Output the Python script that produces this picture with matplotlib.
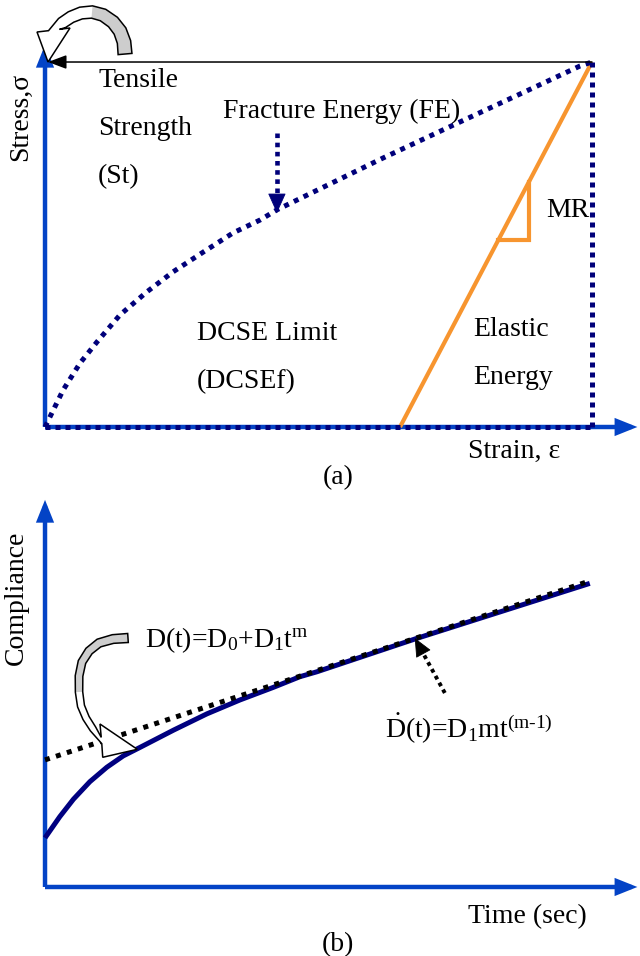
import matplotlib
matplotlib.use("Agg")
import numpy as np
import matplotlib.pyplot as plt
from matplotlib.patches import FancyArrowPatch, Polygon

plt.rcParams['font.family'] = ['Liberation Serif', 'DejaVu Serif']
plt.rcParams['mathtext.fontset'] = 'custom'
plt.rcParams['mathtext.rm'] = 'Liberation Serif'
plt.rcParams['mathtext.it'] = 'Liberation Serif:italic'
plt.rcParams['mathtext.bf'] = 'Liberation Serif:bold'
plt.rcParams['mathtext.default'] = 'rm'

# ---------------- (a) stress-strain (normalised) ----------------
fe_strain = [0.0, 0.033, 0.064, 0.095, 0.137, 0.186, 0.234, 0.289, 0.344,
             0.393, 0.424, 0.521, 0.618, 0.759, 0.868, 0.978, 1.0]
fe_stress = [0.0, 0.101, 0.175, 0.233, 0.307, 0.370, 0.425, 0.479, 0.532,
             0.567, 0.595, 0.666, 0.737, 0.836, 0.912, 0.989, 1.0]
peak_strain = 1.0
peak_stress = 1.0
unload_strain = 0.649          # strain where the elastic unloading line meets zero stress
slope_marks = [0.512, 0.671]   # stress levels of the modulus triangle

# ---------------- (b) creep compliance (normalised) ----------------
time = [0.0, 0.027, 0.052, 0.082, 0.113, 0.143, 0.174, 0.235, 0.296,
        0.356, 0.417, 0.466, 0.497, 0.680, 0.996]
compliance = [0.160, 0.229, 0.286, 0.343, 0.390, 0.427, 0.455, 0.511, 0.564,
              0.609, 0.650, 0.685, 0.701, 0.810, 0.989]
tangent_time = [0.0, 0.998]
tangent_compliance = [0.414, 0.998]

BLUE = '#0343c6'
NAVY = '#00007a'
ORANGE = '#f7952f'
GRAY = '#cdcdcd'
DOTS = (0, (1, 1))
FS = 20

fig = plt.figure(figsize=(6.4, 9.56), dpi=100)
axa = fig.add_axes([0, 0.48745, 1, 0.51255])
axa.set_xlim(-0.0823, 1.0878)
axa.set_ylim(-0.1726, 1.1699)
axa.axis('off')

axb = fig.add_axes([0, 0, 1, 0.48745])
axb.set_xlim(-0.0823, 1.0878)
axb.set_ylim(-0.2248, 1.2932)
axb.axis('off')


def axis_arrow(ax, start, end):
    ax.add_patch(FancyArrowPatch(start, end,
                                 arrowstyle='-|>,head_length=0.75,head_width=0.3',
                                 mutation_scale=14, lw=3.2, color=BLUE,
                                 shrinkA=0, shrinkB=0, joinstyle='miter',
                                 capstyle='butt', clip_on=False, zorder=1))


def dotted_arrow(ax, start, tip, color, frac, lw, head_scale):
    base = (tip[0] + (start[0] - tip[0]) * frac, tip[1] + (start[1] - tip[1]) * frac)
    ax.plot([start[0], base[0]], [start[1], base[1]], color=color, lw=lw,
            ls=DOTS, clip_on=False, zorder=4)
    ax.add_patch(FancyArrowPatch(base, tip,
                                 arrowstyle='-|>,head_length=1.0,head_width=0.45',
                                 mutation_scale=head_scale, lw=0.6, color=color,
                                 shrinkA=0, shrinkB=0, clip_on=False, zorder=4))


def block_arrow(ax, cx, cy, tip, corners, w0, w1, n_gray):
    """Curved block arrow: a tapering band along (cx, cy) ending in a triangular head."""
    to_disp = ax.transData
    c = to_disp.transform(np.column_stack([cx, cy]))
    tp = to_disp.transform([tip])[0]
    k = to_disp.transform(np.array(corners))
    half = np.linspace(w0, w1, len(c)) * fig.dpi / 72.0 / 2.0
    d = np.gradient(c, axis=0)
    d /= np.linalg.norm(d, axis=1)[:, None]
    nrm = np.column_stack([-d[:, 1], d[:, 0]])
    base_dir = k[0] - k[1]
    base_dir /= np.linalg.norm(base_dir)
    if np.dot(base_dir, nrm[-1]) < 0:
        base_dir = -base_dir
        k = k[::-1]
    nrm[-1] = base_dir
    side_a = c + nrm * half[:, None]
    side_b = c - nrm * half[:, None]
    outline = np.vstack([side_a, k[0], tp, k[1], side_b[::-1]])
    tail = np.vstack([side_a[:n_gray], side_b[:n_gray][::-1]])
    back = to_disp.inverted()
    ax.add_patch(Polygon(back.transform(outline), closed=True, facecolor='white',
                         edgecolor='none', zorder=5, clip_on=False))
    ax.add_patch(Polygon(back.transform(tail), closed=True, facecolor=GRAY,
                         edgecolor='none', zorder=5.1, clip_on=False))
    ax.add_patch(Polygon(back.transform(outline), closed=True, facecolor='none',
                         edgecolor='black', lw=1.1, joinstyle='miter',
                         zorder=5.2, clip_on=False))


# ---- panel (a) ----
axis_arrow(axa, (0, 0), (0, 1.047))
axis_arrow(axa, (0, 0), (1.083, 0))

# elastic unloading line and modulus triangle
axa.plot([unload_strain, peak_strain], [0, peak_stress], color=ORANGE, lw=3.0,
         solid_capstyle='butt', zorder=2)
e_lo = unload_strain + slope_marks[0] * (peak_strain - unload_strain) / peak_stress
e_hi = unload_strain + slope_marks[1] * (peak_strain - unload_strain) / peak_stress
axa.plot([e_lo, e_hi, e_hi], [slope_marks[0], slope_marks[0], slope_marks[1]],
         color=ORANGE, lw=3.0, solid_joinstyle='miter', zorder=2)

# fracture-energy envelope
axa.plot([0, peak_strain], [0, 0], color=NAVY, lw=3.6, ls=DOTS, zorder=3)
axa.plot([peak_strain, peak_strain], [0, peak_stress], color=NAVY, lw=3.6, ls=DOTS, zorder=3)
axa.plot(fe_strain, fe_stress, color=NAVY, lw=3.6, ls=(0, (1, 1.15)), zorder=3)

# tensile strength line
axa.add_patch(FancyArrowPatch((peak_strain, peak_stress), (0.0055, peak_stress),
                              arrowstyle='-|>,head_length=0.8,head_width=0.3',
                              mutation_scale=14, lw=1.1, color='black',
                              shrinkA=0, shrinkB=0, zorder=4))

block_arrow(axa,
            [0.1463, 0.1444, 0.1371, 0.1243, 0.1060, 0.0859, 0.0658, 0.0475, 0.0311, 0.0165],
            [1.0219, 1.0548, 1.0849, 1.1096, 1.1288, 1.1370, 1.1342, 1.1233, 1.1068, 1.0877],
            (0.0055, 1.0), [(-0.0146, 1.0822), (0.0457, 1.0932)], 10, 8, 6)

dotted_arrow(axa, (0.424, 0.805), (0.424, 0.586), NAVY, 0.22, 3.3, 13)

axa.text(-0.044, 0.849, 'Stress,σ', rotation=90, ha='center', va='center', fontsize=FS)
axa.text(0.097, 0.932, 'Tensile', ha='left', va='baseline', fontsize=FS)
axa.text(0.097, 0.800, 'Strength', ha='left', va='baseline', fontsize=FS)
axa.text(0.097, 0.668, '(St)', ha='left', va='baseline', fontsize=FS)
axa.text(0.325, 0.847, 'Fracture Energy (FE)', ha='left', va='baseline', fontsize=FS)
axa.text(0.278, 0.238, 'DCSE Limit', ha='left', va='baseline', fontsize=FS)
axa.text(0.278, 0.107, '(DCSEf)', ha='left', va='baseline', fontsize=FS)
axa.text(0.782, 0.249, 'Elastic', ha='left', va='baseline', fontsize=FS)
axa.text(0.782, 0.118, 'Energy', ha='left', va='baseline', fontsize=FS)
axa.text(0.916, 0.575, 'MR', ha='left', va='baseline', fontsize=FS)
axa.text(0.773, -0.085, 'Strain, ε', ha='left', va='baseline', fontsize=FS)
axa.text(0.536, -0.156, '(a)', ha='center', va='baseline', fontsize=FS)

# ---- panel (b) ----
axis_arrow(axb, (0, 0), (0, 1.261))
axis_arrow(axb, (0, 0), (1.083, 0))

axb.plot(time, compliance, color='#000080', lw=3.6, solid_capstyle='butt',
         solid_joinstyle='round', zorder=2)
axb.plot(tangent_time, tangent_compliance, color='black', lw=3.6,
         ls=(0, (1, 1.3)), zorder=3)

block_arrow(axb,
            [0.1517, 0.1243, 0.0987, 0.0804, 0.0676, 0.0622, 0.0622, 0.0658, 0.0750, 0.0878, 0.1033],
            [0.8111, 0.8078, 0.7948, 0.7687, 0.7329, 0.6873, 0.6352, 0.5896, 0.5505, 0.5147, 0.4772],
            (0.1687, 0.4485), [(0.1005, 0.5309), (0.1055, 0.4225)], 6.5, 4.5, 7)

dotted_arrow(axb, (0.731, 0.632), (0.676, 0.811), 'black', 0.27, 2.8, 12)

axb.text(-0.053, 0.941, 'Compliance', rotation=90, ha='center', va='center', fontsize=FS)
axb.text(0.183, 0.782, 'D(t)=D$_0$+D$_1$t$^m$', ha='left', va='baseline', fontsize=FS)
axb.text(0.622, 0.485, '$\\dot{D}$(t)=D$_1$mt$^{(m\u20101)}$', ha='left', va='baseline', fontsize=FS)
axb.text(0.773, -0.117, 'Time (sec)', ha='left', va='baseline', fontsize=FS)
axb.text(0.536, -0.208, '(b)', ha='center', va='baseline', fontsize=FS)

fig.savefig('out.png', dpi=100, facecolor='white')
